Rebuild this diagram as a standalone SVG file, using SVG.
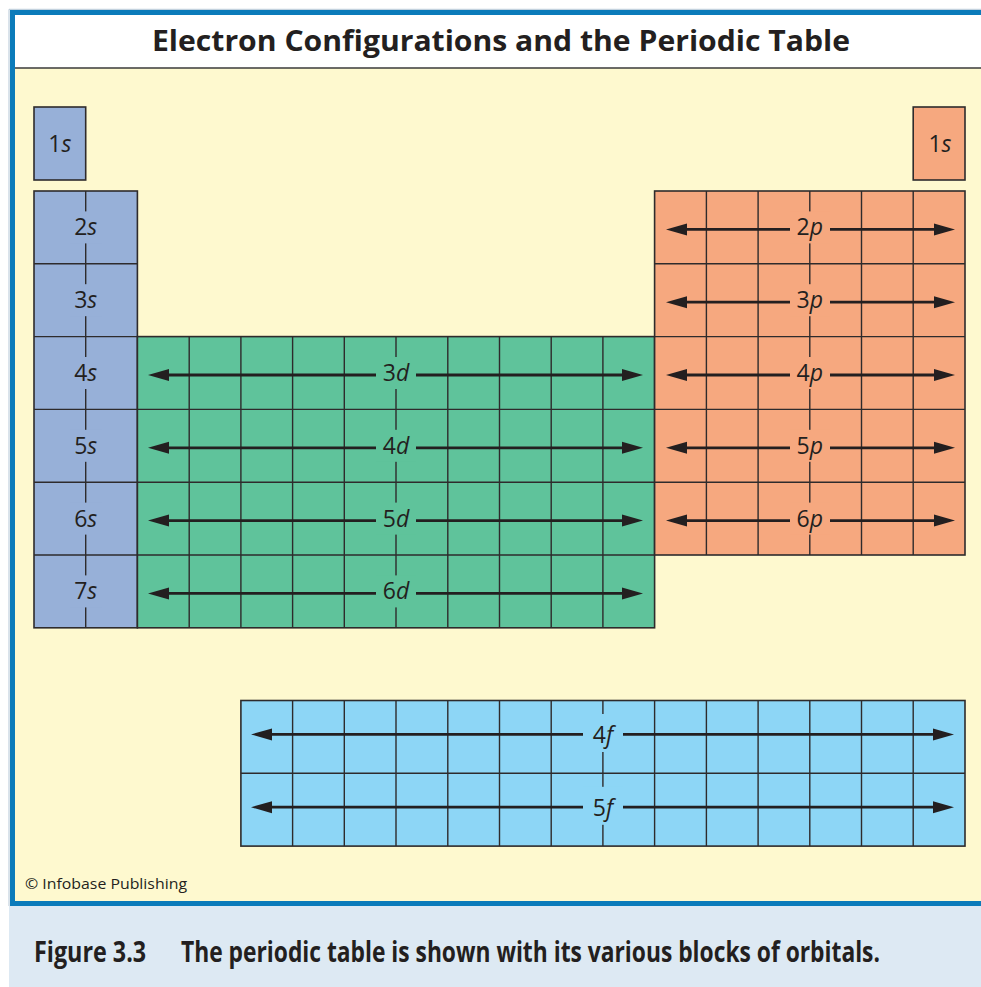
<svg xmlns="http://www.w3.org/2000/svg" width="981" height="987" viewBox="0 0 981 987">
<defs>
<style>
.grid{fill:none;stroke:#2e2b2c;stroke-width:1.4}
.s{fill:#97b0d8}
.d{fill:#5fc39b}
.p{fill:#f6a87f}
.f{fill:#8dd6f6}
.edge{stroke:#2e2b2c;stroke-width:1.6}
.lbl{font-family:"Open Sans","Noto Sans",sans-serif;font-size:23px;fill:#231f20;text-anchor:middle}
.it{font-style:italic}
.arr{stroke:#231f20;stroke-width:2.8;fill:none}
.a-l{marker-start:url(#ah)}
.a-r{marker-end:url(#ah)}
.cap{font-family:"Open Sans","Noto Sans",sans-serif;font-weight:bold;font-size:29px;fill:#231f20}
</style>
<marker id="ah" markerUnits="userSpaceOnUse" markerWidth="22" markerHeight="13" refX="11" refY="6" orient="auto-start-reverse" overflow="visible">
<path d="M0,0 L21,6 L0,12 Z" fill="#231f20"/>
</marker>
</defs>

<rect x="0" y="0" width="981" height="987" fill="#ffffff"/>
<rect x="9" y="906" width="972" height="81" fill="#dde9f3"/>
<rect x="15" y="15" width="966" height="53" fill="#ffffff"/>
<rect x="15" y="68" width="966" height="833" fill="#fef9cf"/>
<line x1="15" y1="68" x2="981" y2="68" stroke="#3a3a3a" stroke-width="1.5"/>
<path d="M12.5 906 V12.5 H981 M10 903.5 H981" fill="none" stroke="#0b7bba" stroke-width="5"/>
<path d="M9 906 V9.3 H981" fill="none" stroke="#b5c7d6" stroke-width="1"/>

<text x="152" y="51" textLength="698" lengthAdjust="spacingAndGlyphs" font-family="Open Sans, Noto Sans, sans-serif" font-weight="bold" font-size="29" fill="#231f20">Electron Configurations and the Periodic Table</text>

<g id="s1-left">
<rect class="s edge" x="34" y="107" width="51.7" height="73"/>
<text class="lbl" x="59.9" y="151.5">1<tspan class="it">s</tspan></text>
</g>

<g id="s1-right">
<rect class="p edge" x="913.2" y="107" width="51.8" height="73"/>
<text class="lbl" x="940" y="151.5">1<tspan class="it">s</tspan></text>
</g>

<g id="s-block">
<rect class="s edge" x="34" y="191" width="103.4" height="436.8"/>
<path class="grid" d="M34 263.8H137.4M34 336.6H137.4M34 409.4H137.4M34 482.2H137.4M34 555H137.4M85.7 191V627.8"/>
<g class="s">
<rect x="70" y="211.4" width="32" height="32"/>
<rect x="70" y="284.2" width="32" height="32"/>
<rect x="70" y="357" width="32" height="32"/>
<rect x="70" y="429.8" width="32" height="32"/>
<rect x="70" y="502.6" width="32" height="32"/>
<rect x="70" y="575.4" width="32" height="32"/>
</g>
<text class="lbl" x="85.7" y="235.4">2<tspan class="it">s</tspan></text>
<text class="lbl" x="85.7" y="308.2">3<tspan class="it">s</tspan></text>
<text class="lbl" x="85.7" y="381">4<tspan class="it">s</tspan></text>
<text class="lbl" x="85.7" y="453.8">5<tspan class="it">s</tspan></text>
<text class="lbl" x="85.7" y="526.6">6<tspan class="it">s</tspan></text>
<text class="lbl" x="85.7" y="599.4">7<tspan class="it">s</tspan></text>
</g>

<g id="d-block">
<rect class="d edge" x="137.4" y="336.6" width="517.2" height="291.2"/>
<path class="grid" d="M137.4 409.4H654.6M137.4 482.2H654.6M137.4 555H654.6M189.2 336.6V627.8M240.9 336.6V627.8M292.6 336.6V627.8M344.3 336.6V627.8M396 336.6V627.8M447.8 336.6V627.8M499.5 336.6V627.8M551.2 336.6V627.8M602.9 336.6V627.8"/>
<g class="d">
<rect x="376" y="357" width="40" height="32"/>
<rect x="376" y="429.8" width="40" height="32"/>
<rect x="376" y="502.6" width="40" height="32"/>
<rect x="376" y="575.4" width="40" height="32"/>
</g>
<text class="lbl" x="396" y="381">3<tspan class="it">d</tspan></text>
<text class="lbl" x="396" y="453.8">4<tspan class="it">d</tspan></text>
<text class="lbl" x="396" y="526.6">5<tspan class="it">d</tspan></text>
<text class="lbl" x="396" y="599.4">6<tspan class="it">d</tspan></text>
</g>

<g id="p-block">
<rect class="p edge" x="654.6" y="191" width="310.4" height="364"/>
<path class="grid" d="M654.6 263.8H965M654.6 336.6H965M654.6 409.4H965M654.6 482.2H965M706.4 191V555M758.1 191V555M809.8 191V555M861.5 191V555M913.2 191V555"/>
<g class="p">
<rect x="790" y="211.4" width="40" height="32"/>
<rect x="790" y="284.2" width="40" height="32"/>
<rect x="790" y="357" width="40" height="32"/>
<rect x="790" y="429.8" width="40" height="32"/>
<rect x="790" y="502.6" width="40" height="32"/>
</g>
<text class="lbl" x="809.8" y="235.4">2<tspan class="it">p</tspan></text>
<text class="lbl" x="809.8" y="308.2">3<tspan class="it">p</tspan></text>
<text class="lbl" x="809.8" y="381">4<tspan class="it">p</tspan></text>
<text class="lbl" x="809.8" y="453.8">5<tspan class="it">p</tspan></text>
<text class="lbl" x="809.8" y="526.6">6<tspan class="it">p</tspan></text>
</g>

<g id="f-block">
<rect class="f edge" x="240.9" y="700.5" width="724.1" height="145.6"/>
<path class="grid" d="M240.9 773.3H965M292.6 700.5V846.1M344.3 700.5V846.1M396 700.5V846.1M447.8 700.5V846.1M499.5 700.5V846.1M551.2 700.5V846.1M602.9 700.5V846.1M654.6 700.5V846.1M706.4 700.5V846.1M758.1 700.5V846.1M809.8 700.5V846.1M861.5 700.5V846.1M913.2 700.5V846.1"/>
<g class="f">
<rect x="583" y="714" width="40" height="38"/>
<rect x="583" y="786.8" width="40" height="38"/>
</g>
<text class="lbl" x="602.9" y="743.4">4<tspan class="it">f</tspan></text>
<text class="lbl" x="602.9" y="816.2">5<tspan class="it">f</tspan></text>
</g>

<g id="connectors">
<line class="arr a-l" x1="158" y1="375" x2="376" y2="375"/>
<line class="arr a-r" x1="416" y1="375" x2="633" y2="375"/>
<line class="arr a-l" x1="158" y1="447.8" x2="376" y2="447.8"/>
<line class="arr a-r" x1="416" y1="447.8" x2="633" y2="447.8"/>
<line class="arr a-l" x1="158" y1="520.6" x2="376" y2="520.6"/>
<line class="arr a-r" x1="416" y1="520.6" x2="633" y2="520.6"/>
<line class="arr a-l" x1="158" y1="593.4" x2="376" y2="593.4"/>
<line class="arr a-r" x1="416" y1="593.4" x2="633" y2="593.4"/>

<line class="arr a-l" x1="676" y1="229.4" x2="790" y2="229.4"/>
<line class="arr a-r" x1="830" y1="229.4" x2="945" y2="229.4"/>
<line class="arr a-l" x1="676" y1="302.2" x2="790" y2="302.2"/>
<line class="arr a-r" x1="830" y1="302.2" x2="945" y2="302.2"/>
<line class="arr a-l" x1="676" y1="375" x2="790" y2="375"/>
<line class="arr a-r" x1="830" y1="375" x2="945" y2="375"/>
<line class="arr a-l" x1="676" y1="447.8" x2="790" y2="447.8"/>
<line class="arr a-r" x1="830" y1="447.8" x2="945" y2="447.8"/>
<line class="arr a-l" x1="676" y1="520.6" x2="790" y2="520.6"/>
<line class="arr a-r" x1="830" y1="520.6" x2="945" y2="520.6"/>

<line class="arr a-l" x1="261" y1="734.4" x2="583" y2="734.4"/>
<line class="arr a-r" x1="623" y1="734.4" x2="944" y2="734.4"/>
<line class="arr a-l" x1="261" y1="807.2" x2="583" y2="807.2"/>
<line class="arr a-r" x1="623" y1="807.2" x2="944" y2="807.2"/>
</g>

<text x="25" y="889" textLength="162" lengthAdjust="spacingAndGlyphs" font-family="Open Sans, Noto Sans, sans-serif" font-size="15" fill="#231f20">© Infobase Publishing</text>

<text class="cap" transform="translate(34 961.7) scale(0.66 1)" x="0" y="0" textLength="170" lengthAdjust="spacingAndGlyphs">Figure 3.3</text>
<text class="cap" transform="translate(181 961.7) scale(0.66 1)" x="0" y="0" textLength="1059" lengthAdjust="spacingAndGlyphs">The periodic table is shown with its various blocks of orbitals.</text>
</svg>
